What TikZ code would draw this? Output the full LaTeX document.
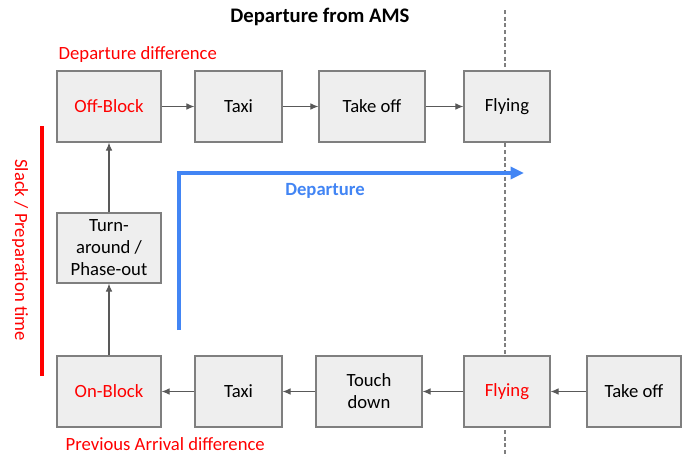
\documentclass[tikz,border=0pt]{standalone}
\usepackage{fontspec}
\setmainfont{Carlito}
\usetikzlibrary{arrows.meta}
\definecolor{boxfill}{HTML}{EEEEEE}
\definecolor{boxline}{HTML}{7F7F7F}
\definecolor{arrowgray}{HTML}{595959}
\definecolor{markred}{HTML}{FF0000}
\definecolor{flowblue}{HTML}{4285F4}
\definecolor{dashgray}{HTML}{7F7F7F}
\begin{document}
\begin{tikzpicture}[x=0.75pt,y=-0.75pt,
  box/.style={draw=boxline, fill=boxfill, line width=0.9pt, align=center,
    inner sep=0pt, font=\fontsize{14}{16.5}\selectfont, minimum height=71*0.75pt},
  flow/.style={draw=arrowgray, line width=0.8pt, -{Latex[length=6pt,width=5pt]}},
  redtext/.style={text=markred, font=\fontsize{14}{16.5}\selectfont},
]
\useasboundingbox (0,0) rectangle (682,457);

% separator between departure and arrival sides
\draw[dashgray, line width=0.8pt, dash pattern=on 3pt off 2pt] (505,10) -- (505,457);

% title
\node[font=\bfseries\fontsize{15.5}{18}\selectfont] (title) at (320,17) {Departure from AMS};

% departure row
\node[box, minimum width=104*0.75pt, text=markred] (offblock) at (109,106.5) {Off-Block};
\node[box, minimum width=87*0.75pt] (taxiA) at (238.5,106.5) {Taxi};
\node[box, minimum width=106*0.75pt] (takeoffA) at (372,106.5) {Take off};
\node[box, minimum width=86*0.75pt] (flyingA) at (507,106.5) {Flying};

% turn-around
\node[box, minimum width=104*0.75pt, minimum height=70*0.75pt] (turn) at (109,248) {Turn-\\around /\\Phase-out};

% arrival row
\node[box, minimum width=104*0.75pt, text=markred] (onblock) at (109,391.5) {On-Block};
\node[box, minimum width=87*0.75pt] (taxiB) at (238.5,391.5) {Taxi};
\node[box, minimum width=106*0.75pt] (touch) at (369,391.5) {Touch\\down};
\node[box, minimum width=86*0.75pt, text=markred] (flyingB) at (507,391.5) {Flying};
\node[box, minimum width=94*0.75pt] (takeoffB) at (634,391.5) {Take off};

% connectors
\draw[flow] (offblock) -- (taxiA);
\draw[flow] (taxiA) -- (takeoffA);
\draw[flow] (takeoffA) -- (flyingA);
\draw[flow] (takeoffB) -- (flyingB);
\draw[flow] (flyingB) -- (touch);
\draw[flow] (touch) -- (taxiB);
\draw[flow] (taxiB) -- (onblock);
\draw[flow] (onblock) -- (turn);
\draw[flow] (turn) -- (offblock);

% labels
\node[redtext, anchor=west] (deplabel) at (54,55) {Departure difference};
\node[redtext, anchor=west] (arrlabel) at (61,444) {Previous Arrival difference};

% slack bar
\coordinate (slacktop) at (42,126);
\coordinate (slackbot) at (42,376);
\draw[markred, line width=2.4pt] (slacktop) -- (slackbot);
\node[redtext, rotate=-90] (slacklabel) at (20,250) {Slack / Preparation time};

% departure arrow
\coordinate (depstart) at (179,330);
\coordinate (depcorner) at (179,173);
\coordinate (depend) at (524,173);
\draw[flowblue, line width=2.4pt, -{Triangle[length=10pt,width=9pt]}] (depstart) -- (depcorner) -- (depend);
\node[text=flowblue, font=\bfseries\fontsize{14}{16.5}\selectfont] (deptext) at (325,191) {Departure};
\end{tikzpicture}
\end{document}
